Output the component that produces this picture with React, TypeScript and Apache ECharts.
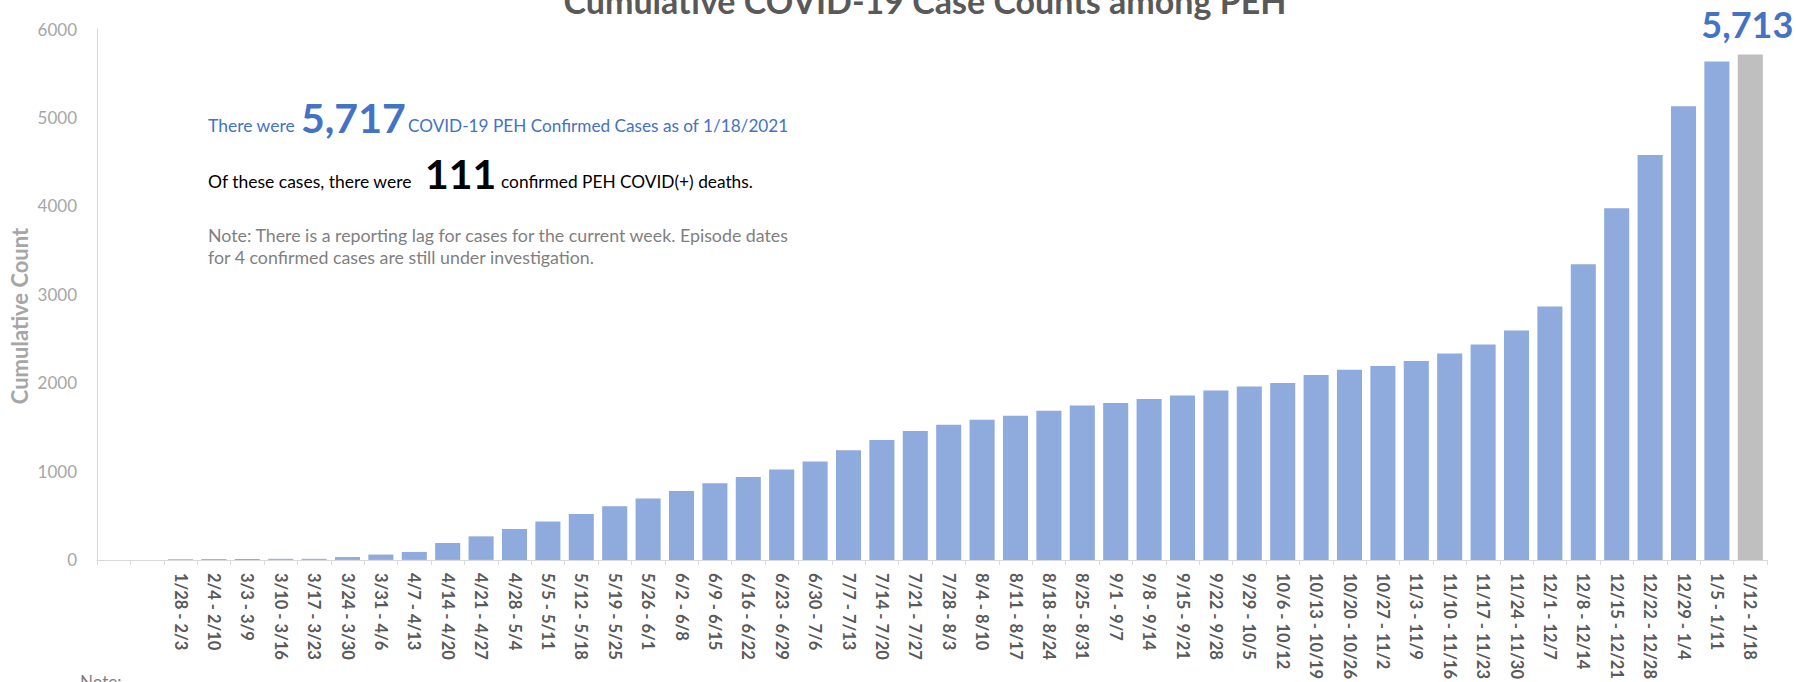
import React, { useEffect, useRef } from 'react';
import * as echarts from 'echarts';

const weekLabels: string[] = [
  '', '',
  '1/28 - 2/3', '2/4 - 2/10', '3/3 - 3/9', '3/10 - 3/16', '3/17 - 3/23', '3/24 - 3/30',
  '3/31 - 4/6', '4/7 - 4/13', '4/14 - 4/20', '4/21 - 4/27', '4/28 - 5/4', '5/5 - 5/11',
  '5/12 - 5/18', '5/19 - 5/25', '5/26 - 6/1', '6/2 - 6/8', '6/9 - 6/15', '6/16 - 6/22',
  '6/23 - 6/29', '6/30 - 7/6', '7/7 - 7/13', '7/14 - 7/20', '7/21 - 7/27', '7/28 - 8/3',
  '8/4 - 8/10', '8/11 - 8/17', '8/18 - 8/24', '8/25 - 8/31', '9/1 - 9/7', '9/8 - 9/14',
  '9/15 - 9/21', '9/22 - 9/28', '9/29 - 10/5', '10/6 - 10/12', '10/13 - 10/19', '10/20 - 10/26',
  '10/27 - 11/2', '11/3 - 11/9', '11/10 - 11/16', '11/17 - 11/23', '11/24 - 11/30', '12/1 - 12/7',
  '12/8 - 12/14', '12/15 - 12/21', '12/22 - 12/28', '12/29 - 1/4', '1/5 - 1/11', '1/12 - 1/18',
];

const cumulativeCases: (number | null)[] = [
  null, null,
  8, 10, 11, 12, 12, 32,
  60, 90, 191, 266, 348, 435,
  520, 607, 693, 779, 865, 936,
  1022, 1112, 1240, 1356, 1457, 1528,
  1584, 1629, 1685, 1745, 1772, 1817,
  1857, 1914, 1959, 2000, 2090, 2150,
  2191, 2247, 2333, 2435, 2592, 2865,
  3340, 3974, 4577, 5127, 5633, 5713,
];

const chartTitle = 'Cumulative COVID-19 Case Counts among PEH';
const yAxisTitle = 'Cumulative Count';
const totalCases = '5,717';
const totalDeaths = '111';
const line1Before = 'There were';
const line1After = 'COVID-19 PEH Confirmed Cases as of 1/18/2021';
const line2Before = 'Of these cases, there were';
const line2After = 'confirmed PEH COVID(+) deaths.';
const noteLines = [
  'Note: There is a reporting lag for cases for the current week. Episode dates',
  'for 4 confirmed cases are still under investigation.',
];
const footNote = 'Note:';

const FONT = 'Lato, "Open Sans", sans-serif';
const BLUE = '#4472C4';
const BAR_BLUE = '#8FAADC';
const BAR_GRAY = '#BFBFBF';

// y centre such that the baseline lands at `baseline`
const mid = (baseline: number, size: number) => baseline - 0.32 * size;

function txt(text: string, x: number, baseline: number, size: number, weight: string, fill: string, align = 'left') {
  return {
    type: 'text',
    x,
    y: mid(baseline, size),
    silent: true,
    style: {
      text,
      fill,
      font: `${weight} ${size}px ${FONT}`,
      align,
      verticalAlign: 'middle',
    },
  };
}

export default function App() {
  const ref = useRef<HTMLDivElement>(null);

  useEffect(() => {
    if (!ref.current) return;
    const chart = echarts.init(ref.current, undefined, { renderer: 'svg' });
    const lastIdx = cumulativeCases.length - 1;

    const data = cumulativeCases.map((v, i) =>
      i === lastIdx
        ? {
            value: v,
            itemStyle: { color: BAR_GRAY },
            label: {
              show: true,
              position: 'top',
              distance: 12,
              offset: [-3, 0],
              formatter: (p: any) => Number(p.value).toLocaleString('en-US'),
              color: BLUE,
              fontFamily: FONT,
              fontWeight: 'bold',
              fontSize: 36,
            },
          }
        : { value: v }
    );

    chart.setOption({
      animation: false,
      backgroundColor: '#ffffff',
      grid: { left: 97, right: 29, top: 29, bottom: 119, containLabel: false },
      xAxis: {
        type: 'category',
        data: weekLabels,
        axisLine: { show: true, lineStyle: { color: '#D9D9D9', width: 1 } },
        axisTick: { show: true, length: 5, lineStyle: { color: '#D9D9D9' } },
        axisLabel: {
          rotate: -90,
          interval: 0,
          margin: 13,
          color: '#595959',
          fontFamily: FONT,
          fontWeight: 'bold',
          fontSize: 16.5,
        },
      },
      yAxis: {
        type: 'value',
        min: 0,
        max: 6000,
        interval: 1000,
        axisLine: { show: true, lineStyle: { color: '#D9D9D9', width: 1 } },
        axisTick: { show: false },
        splitLine: { show: false },
        axisLabel: {
          margin: 20,
          color: '#A6A6A6',
          fontFamily: FONT,
          fontSize: 17,
          formatter: (v: number) => String(v),
        },
      },
      series: [
        {
          type: 'bar',
          data,
          barCategoryGap: '25%',
          itemStyle: { color: BAR_BLUE },
        },
      ],
      graphic: [
        txt(chartTitle, 925, 11, 34, 'bold', '#595959', 'center'),
        {
          type: 'text',
          x: 19,
          y: 316,
          rotation: Math.PI / 2,
          silent: true,
          style: {
            text: yAxisTitle,
            fill: '#A6A6A6',
            font: `bold 22px ${FONT}`,
            align: 'center',
            verticalAlign: 'middle',
          },
        },
        txt(line1Before, 208, 131, 17.5, 'normal', BLUE),
        txt(totalCases, 301, 131, 41, 'bold', BLUE),
        txt(line1After, 408, 131, 17.2, 'normal', BLUE),
        txt(line2Before, 208, 187, 17.5, 'normal', '#000000'),
        txt(totalDeaths, 425, 187, 41, 'bold', '#000000'),
        txt(line2After, 501, 187, 17.3, 'normal', '#000000'),
        txt(noteLines[0], 208, 241, 17.8, 'normal', '#7F7F7F'),
        txt(noteLines[1], 208, 263, 17.8, 'normal', '#7F7F7F'),
        txt(footNote, 80, 687, 17, 'normal', '#7F7F7F'),
      ],
    });

    return () => chart.dispose();
  }, []);

  return (
    <div
      ref={ref}
      style={{ position: 'absolute', left: 0, top: 0, width: 1796, height: 682 }}
    />
  );
}
